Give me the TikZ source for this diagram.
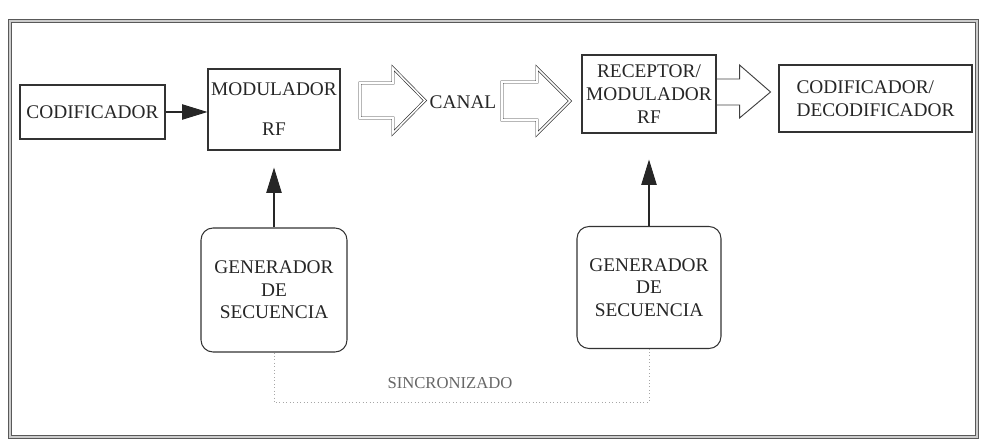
\documentclass[tikz,border=0pt]{standalone}
\usepackage{fontspec}
\setmainfont{Liberation Serif}
\usetikzlibrary{arrows.meta}

\begin{document}
\begin{tikzpicture}
[x=0.75pt,y=-0.75pt,%
  every node/.style={inner sep=0pt,align=center,text=black!85,%
    font=\fontsize{14.5}{17}\selectfont},%
  box/.style={draw=black!80,line width=0.8pt,shape=rectangle},%
  genbox/.style={box,rounded corners=9pt},%
  sigarrow/.style={-{Triangle[length=19pt,width=11.5pt]},draw=black!85,line width=0.8pt},%
  bigarrow/.style={draw=black!80,line width=0.5pt,double=white,double distance=1.2pt,line join=miter},%
  sync/.style={draw=black!35,dotted,line width=0.6pt}]
\useasboundingbox (0,0) rectangle (983,442);
\draw[draw=black!65,line width=0.9pt,double=black!20,double distance=1.2pt] (10,21) rectangle (977,437);
%%
\node[box,minimum width=108.75pt,minimum height=40.5pt] (cod) at (92.5,112) {CODIFICADOR};
%%
\node[box,minimum width=99pt,minimum height=60.75pt] (mod) at (274,109.5) {MODULADOR\\[13pt]RF};
%%
\node (canal) at (463,102) {CANAL};
%%
\node[box,minimum width=100.5pt,minimum height=58.5pt] (rec) at (649,94) {RECEPTOR/\\MODULADOR\\RF};
%%
\node[box,minimum width=144.75pt,minimum height=50.25pt,align=left] (dec) at (875.5,98.5)
  {\fontsize{14.5}{18.75}\selectfont CODIFICADOR/\\DECODIFICADOR};
%%
\node[genbox,minimum width=109.5pt,minimum height=93pt] (gen1) at (274,290)
  {\fontsize{14.5}{19}\selectfont GENERADOR\\DE\\SECUENCIA};
%%
\node[genbox,minimum width=108pt,minimum height=91.5pt] (gen2) at (649,287.5)
  {\fontsize{14.5}{19}\selectfont GENERADOR\\DE\\SECUENCIA};
%%
\node[text=black!60,font=\fontsize{12.5}{14}\selectfont] (sinc) at (450,383) {SINCRONIZADO};
%%
\draw[sigarrow] (cod.east) -- (cod.east -| mod.west);
\path
\foreach \startNode/\endNode/\gap in {gen1/mod/12.75pt, gen2/rec/19.5pt}
{
  (\startNode.north) edge[sigarrow,shorten >=\gap] (\endNode.south)
};
%%
\draw[bigarrow] (360,100.5) ++(0,-17.5) -- ++(33,0) -- ++(0,-15) -- ++(32,32.5)
  -- ++(-32,32.5) -- ++(0,-15) -- ++(-33,0) -- cycle;
\draw[bigarrow] (502,101) ++(0,-19) -- ++(35,0) -- ++(0,-14) -- ++(33,33)
  -- ++(-33,33) -- ++(0,-14) -- ++(-35,0) -- cycle;
\draw[draw=black!75,line width=0.7pt,line join=miter] (rec.east) ++(0,-15) -- ++(23,0) -- ++(0,-14)
  -- ++(31,27) -- ++(-31,26) -- ++(0,-13) -- ++(-23,0);
%%
\draw[sync] (gen1.south) -- ++(0,50) -| (gen2.south);
\end{tikzpicture}
\end{document}
